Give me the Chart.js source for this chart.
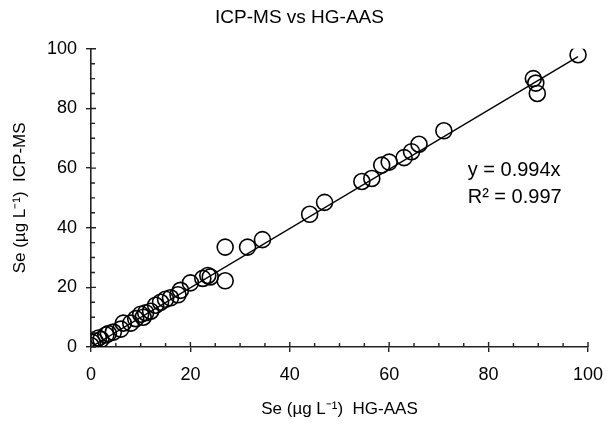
<!DOCTYPE html>
<html>
<head>
<meta charset="utf-8">
<script src="https://cdn.jsdelivr.net/npm/chart.js@4/dist/chart.umd.min.js"></script>
<style>
  body { margin: 0; background: #fff; }
  #wrap { width: 615px; height: 430px; }
</style>
</head>
<body>
<div id="wrap"><canvas id="chart" width="615" height="430"></canvas></div>
<script>
// Se by HG-AAS (x) and ICP-MS (y), µg/L
const hgaas = [0, 0.3, 0.8, 1.5, 2, 3, 3.5, 4.5, 6, 6.5, 8, 9, 10, 10.5, 11, 12, 13, 14, 15, 16, 17.5, 18, 20, 22.5, 23.5, 24, 27, 27, 31.5, 34.5, 44, 47, 54.5, 56.5, 58.5, 60, 63, 64.5, 66, 71, 89, 89.5, 89.8, 98];
const icpms = [0.5, 1.5, 2, 3, 2.5, 4, 4.5, 5, 6, 8, 8, 9.5, 11, 10, 11.5, 12, 14, 15, 16, 16.5, 17.5, 19, 21.5, 23, 24, 23.5, 33.5, 22.2, 33.5, 36, 44.5, 48.5, 55.5, 56.5, 61, 62, 63.5, 65.5, 68, 72.5, 90, 88.5, 85, 98];

// fitted line end points
const trendX = [0, 98];
const trendY = [0, 97.4];

const eqLines = ["y = 0.994x", "R\u00b2 = 0.997"];
const eqAt = { x: 75.8, y: [59.2, 50.2] };

const FONT = "'Liberation Sans', Arial, sans-serif";
Chart.defaults.font.family = FONT;
Chart.defaults.color = "#000";

const points = hgaas.map((x, i) => ({ x: x, y: icpms[i] }));
const trend = trendX.map((x, i) => ({ x: x, y: trendY[i] }));

// inner tick marks (minor every 5, major every 20)
const innerTicks = {
  id: "innerTicks",
  afterDraw(chart) {
    const { ctx, chartArea, scales } = chart;
    ctx.save();
    ctx.strokeStyle = "#222";
    ctx.lineWidth = 1.4;
    ctx.beginPath();
    scales.x.ticks.forEach(t => {
      const px = scales.x.getPixelForValue(t.value);
      const len = t.value % 20 === 0 ? 5 : 4;
      ctx.moveTo(px, chartArea.bottom);
      ctx.lineTo(px, chartArea.bottom - len);
    });
    scales.y.ticks.forEach(t => {
      const py = scales.y.getPixelForValue(t.value);
      const len = t.value % 20 === 0 ? 5 : 4;
      ctx.moveTo(chartArea.left, py);
      ctx.lineTo(chartArea.left + len, py);
    });
    ctx.stroke();
    ctx.restore();
  },
};

const equation = {
  id: "equation",
  afterDatasetsDraw(chart) {
    const { ctx, scales } = chart;
    ctx.save();
    ctx.font = "20px " + FONT;
    ctx.fillStyle = "#000";
    ctx.textBaseline = "middle";
    ctx.textAlign = "left";
    eqLines.forEach((txt, i) => {
      ctx.fillText(txt, scales.x.getPixelForValue(eqAt.x), scales.y.getPixelForValue(eqAt.y[i]));
    });
    ctx.restore();
  },
};

const majorOnly = ctx => (ctx.tick && ctx.tick.value % 20 === 0 ? "#222" : "rgba(0,0,0,0)");

new Chart(document.getElementById("chart"), {
  type: "scatter",
  data: {
    datasets: [
      {
        label: "Samples",
        data: points,
        pointStyle: "circle",
        pointRadius: 8,
        pointHoverRadius: 8,
        borderColor: "#000",
        borderWidth: 1.6,
        backgroundColor: "rgba(0,0,0,0)",
      },
      {
        type: "line",
        label: "Fit",
        data: trend,
        borderColor: "#000",
        borderWidth: 1.4,
        pointRadius: 0,
        fill: false,
      },
    ],
  },
  options: {
    responsive: false,
    animation: false,
    layout: { padding: { left: 0, right: 16, top: 0, bottom: 0 } },
    plugins: {
      legend: { display: false },
      tooltip: { enabled: false },
      title: {
        display: true,
        text: "ICP-MS vs HG-AAS",
        font: { size: 19, weight: "normal" },
        color: "#000",
        padding: { top: 6, bottom: 20 },
      },
    },
    scales: {
      x: {
        type: "linear",
        min: 0,
        max: 100,
        afterFit: s => { s.height = 83; },
        border: { color: "#222", width: 1.6 },
        grid: { drawOnChartArea: false, drawTicks: true, tickLength: 5, color: majorOnly, lineWidth: 1.4 },
        ticks: {
          stepSize: 5,
          autoSkip: false,
          maxRotation: 0,
          padding: 12,
          font: { size: 18 },
          callback: v => (v % 20 === 0 ? v : ""),
        },
        title: {
          display: true,
          text: "Se (\u00b5g L\u207b\u00b9)  HG-AAS",
          font: { size: 17 },
          padding: { top: 0, bottom: 10 },
        },
      },
      y: {
        type: "linear",
        min: 0,
        max: 100,
        afterFit: s => { s.width = 91; },
        border: { color: "#222", width: 1.6 },
        grid: { drawOnChartArea: false, drawTicks: true, tickLength: 5, color: majorOnly, lineWidth: 1.4 },
        ticks: {
          stepSize: 5,
          autoSkip: false,
          padding: 9,
          font: { size: 18 },
          callback: v => (v % 20 === 0 ? v : ""),
        },
        title: {
          display: true,
          text: "Se (\u00b5g L\u207b\u00b9)  ICP-MS",
          font: { size: 17 },
          padding: { top: 10, bottom: 0 },
        },
      },
    },
  },
  plugins: [innerTicks, equation],
});
</script>
</body>
</html>
